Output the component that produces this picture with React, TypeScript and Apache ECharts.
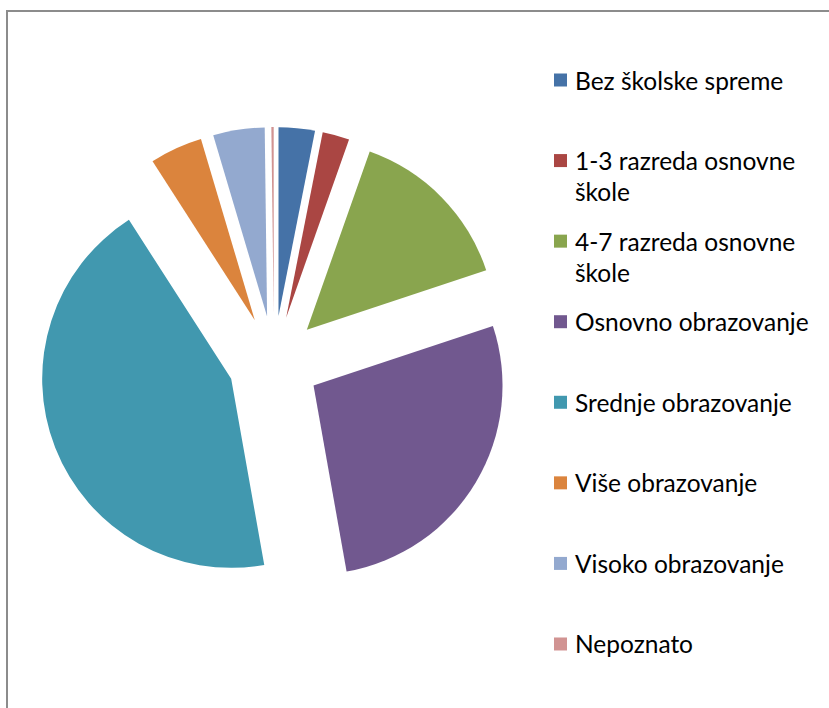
import React, { useEffect, useRef } from "react";
import * as echarts from "echarts";

const categories = [
  "Bez školske spreme",
  "1-3 razreda osnovne škole",
  "4-7 razreda osnovne škole",
  "Osnovno obrazovanje",
  "Srednje obrazovanje",
  "Više obrazovanje",
  "Visoko obrazovanje",
  "Nepoznato",
];
const legendLabels = [
  ["Bez školske spreme"],
  ["1-3 razreda osnovne", "škole"],
  ["4-7 razreda osnovne", "škole"],
  ["Osnovno obrazovanje"],
  ["Srednje obrazovanje"],
  ["Više obrazovanje"],
  ["Visoko obrazovanje"],
  ["Nepoznato"],
];
const values = [3.1, 2.3, 14.5, 27.3, 43.7, 4.5, 4.4, 0.2];
const colors = ["#4572A7", "#AA4643", "#89A54E", "#71588F", "#4198AF", "#DB843D", "#93A9CF", "#D19392"];

const FONT = "Lato";
const LINE_H = 31;

export default function App() {
  const ref = useRef<HTMLDivElement>(null);
  useEffect(() => {
    if (!ref.current) return;
    const chart = echarts.init(ref.current, undefined, { renderer: "svg" });
    const legends = categories.map((name, i) => {
      const lines = legendLabels[i];
      const multi = lines.length > 1;
      // for multi-line items, add a blank line on top so the first line sits on the icon
      const text = multi ? [" ", ...lines].join("\n") : lines[0];
      const centerY = 80 + i * 80.57;
      return {
        show: true,
        orient: "vertical",
        left: 554,
        top: centerY - (multi ? 1.5 * LINE_H : LINE_H / 2),
        padding: 0,
        itemWidth: 13,
        itemHeight: 13,
        icon: "rect",
        selectedMode: false,
        data: [name],
        formatter: () => text,
        textStyle: {
          fontFamily: FONT,
          fontSize: 24.5,
          color: "#000",
          lineHeight: LINE_H,
          padding: [0, 0, 0, 3],
        },
      };
    });
    chart.setOption({
      animation: false,
      color: colors,
      legend: legends,
      graphic: [
        {
          type: "rect",
          z: -1,
          shape: { x: 7, y: 11, width: 900, height: 800 },
          style: { fill: "none", stroke: "#8c8c8c", lineWidth: 2 },
          silent: true,
        },
      ],
      series: [
        {
          type: "pie",
          center: [274, 362],
          radius: 189,
          startAngle: 90,
          clockwise: true,
          selectedMode: "multiple",
          selectedOffset: 46,
          label: { show: false },
          labelLine: { show: false },
          emphasis: { disabled: true },
          itemStyle: { borderWidth: 0 },
          data: categories.map((name, i) => ({ name, value: values[i], selected: true })),
        },
      ],
    });
    return () => chart.dispose();
  }, []);
  return (
    <div
      ref={ref}
      style={{ position: "fixed", left: 0, top: 0, width: 829, height: 708, background: "#fff" }}
    />
  );
}
